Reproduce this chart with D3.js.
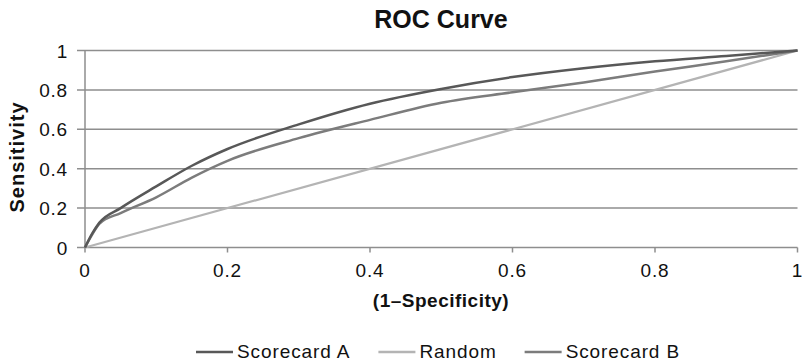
<!DOCTYPE html>
<html>
<head>
<meta charset="utf-8">
<script src="https://cdn.jsdelivr.net/npm/d3@7"></script>
<style>
  html, body { margin: 0; padding: 0; background: #fff; }
  svg { display: block; font-family: "Liberation Sans", Arial, Helvetica, sans-serif; }
</style>
</head>
<body>
<svg id="chart" width="802" height="364"></svg>
<script>
// False positive rate (1 - specificity) sample points
const fpr = [0, 0.01, 0.02, 0.05, 0.1, 0.15, 0.2, 0.3, 0.4, 0.5, 0.6, 0.7, 0.8, 0.9, 1];
// Sensitivity for each scorecard at those points
const scorecardA = [0, 0.07, 0.125, 0.2, 0.31, 0.415, 0.5, 0.625, 0.73, 0.805, 0.865, 0.91, 0.945, 0.972, 1];
const scorecardB = [0, 0.065, 0.12, 0.175, 0.255, 0.355, 0.44, 0.555, 0.648, 0.735, 0.788, 0.838, 0.893, 0.945, 1];
const randomLine = [0, 1];
const randomX = [0, 1];

const xTicks = [0, 0.2, 0.4, 0.6, 0.8, 1];
const yTicks = [0, 0.2, 0.4, 0.6, 0.8, 1];
const tickLabels = ["0", "0.2", "0.4", "0.6", "0.8", "1"];

const seriesNames = ["Scorecard A", "Random", "Scorecard B"];
const seriesColors = ["#585858", "#b4b4b4", "#7c7c7c"];

const svg = d3.select("#chart");
const x = d3.scaleLinear().domain([0, 1]).range([85, 797.5]);
const y = d3.scaleLinear().domain([0, 1]).range([247.5, 50.5]);
const gridColor = "#8e8e8e";

// horizontal gridlines (extend left as tick marks)
svg.append("g").selectAll("line").data(yTicks).join("line")
  .attr("x1", x(0) - 8).attr("x2", x(1))
  .attr("y1", d => y(d)).attr("y2", d => y(d))
  .attr("stroke", gridColor).attr("stroke-width", 1.5);

// vertical axis line
svg.append("line")
  .attr("x1", x(0)).attr("x2", x(0)).attr("y1", y(1)).attr("y2", y(0))
  .attr("stroke", gridColor).attr("stroke-width", 1.5);

// x tick marks
svg.append("g").selectAll("line").data(xTicks).join("line")
  .attr("x1", d => x(d)).attr("x2", d => x(d))
  .attr("y1", y(0)).attr("y2", y(0) + 5)
  .attr("stroke", gridColor).attr("stroke-width", 1.5);

const tickFont = 19;
// y tick labels
svg.append("g").selectAll("text").data(yTicks).join("text")
  .attr("x", 68).attr("y", d => y(d) + 7)
  .attr("text-anchor", "end")
  .attr("font-size", tickFont).attr("letter-spacing", 0.8).attr("fill", "#111")
  .text((d, i) => tickLabels[i]);

// x tick labels
svg.append("g").selectAll("text").data(xTicks).join("text")
  .attr("x", d => x(d)).attr("y", 277)
  .attr("text-anchor", "middle")
  .attr("font-size", tickFont).attr("letter-spacing", 0.8).attr("fill", "#111")
  .text((d, i) => tickLabels[i]);

// lines
const line = d3.line().x(d => x(d[0])).y(d => y(d[1])).curve(d3.curveMonotoneX);

svg.append("path")
  .datum(randomX.map((v, i) => [v, randomLine[i]]))
  .attr("d", line).attr("fill", "none")
  .attr("stroke", seriesColors[1]).attr("stroke-width", 2.2);

svg.append("path")
  .datum(fpr.map((v, i) => [v, scorecardB[i]]))
  .attr("d", line).attr("fill", "none")
  .attr("stroke", seriesColors[2]).attr("stroke-width", 2.5);

svg.append("path")
  .datum(fpr.map((v, i) => [v, scorecardA[i]]))
  .attr("d", line).attr("fill", "none")
  .attr("stroke", seriesColors[0]).attr("stroke-width", 2.5);

// title
svg.append("text")
  .attr("x", 441).attr("y", 28)
  .attr("text-anchor", "middle")
  .attr("font-size", 25).attr("font-weight", "bold").attr("fill", "#111")
  .text("ROC Curve");

// axis titles
svg.append("text")
  .attr("x", 441).attr("y", 307)
  .attr("text-anchor", "middle")
  .attr("font-size", 19).attr("font-weight", "bold").attr("letter-spacing", 0.5).attr("fill", "#111")
  .text("(1\u2013Specificity)");

svg.append("text")
  .attr("transform", "translate(24,157) rotate(-90)")
  .attr("text-anchor", "middle")
  .attr("font-size", 20).attr("font-weight", "bold").attr("letter-spacing", 1).attr("fill", "#111")
  .text("Sensitivity");

// legend
const legend = svg.append("g");
let lx = 196;
const ly = 352;
seriesNames.forEach((name, i) => {
  legend.append("line")
    .attr("x1", lx).attr("x2", lx + 37).attr("y1", ly).attr("y2", ly)
    .attr("stroke", seriesColors[i]).attr("stroke-width", 2.5);
  const t = legend.append("text")
    .attr("x", lx + 41).attr("y", ly + 6)
    .attr("font-size", 19).attr("letter-spacing", 0.9).attr("fill", "#111")
    .text(name);
  lx += 41 + t.node().getComputedTextLength() + 28;
});
</script>
</body>
</html>
